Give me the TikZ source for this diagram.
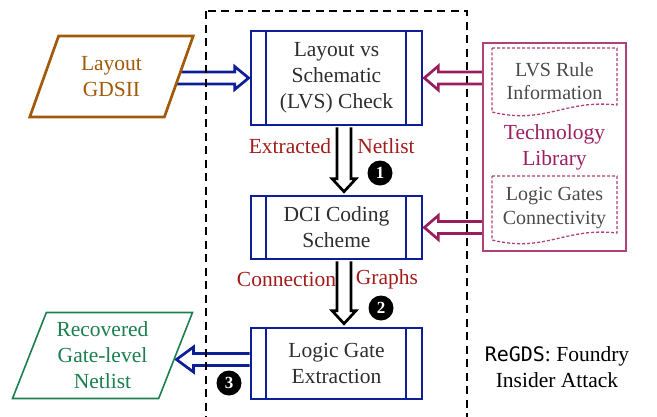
\documentclass[tikz,border=0pt]{standalone}
\usepackage{fontspec}
\setmainfont{Liberation Serif}
\newfontfamily\regdsfont{DejaVu Sans Mono}
\usetikzlibrary{shapes.geometric,calc}
\pgfdeclarelayer{background}
\pgfsetlayers{background,main}
\definecolor{bx}{HTML}{0D1E96}
\definecolor{brn}{HTML}{A25A0A}
\definecolor{grn}{HTML}{1B7F4F}
\definecolor{mag}{HTML}{9B1E5C}
\definecolor{techc}{HTML}{B0407A}
\definecolor{techt}{HTML}{9B2060}
\definecolor{lbl}{HTML}{A31C1C}
\definecolor{txt}{HTML}{2E2E2E}
\definecolor{doct}{HTML}{4A4A4A}
\begin{document}
\begin{tikzpicture}[x=1pt,y=-1pt,
  bigfont/.style={font=\fontsize{21.5}{26}\selectfont},
  proc/.style={draw=bx, line width=2.7pt, fill=white, text=txt, align=center,
    bigfont, inner sep=0pt,
    path picture={
      \draw[bx, line width=2.7pt] ($(path picture bounding box.north west)+(15,0)$) -- ($(path picture bounding box.south west)+(15,0)$);
      \draw[bx, line width=2.7pt] ($(path picture bounding box.north east)+(-16,0)$) -- ($(path picture bounding box.south east)+(-16,0)$);
    }},
  para/.style={trapezium, trapezium stretches=true, trapezium left angle=67.6,
    trapezium right angle=112.4, align=center, bigfont, inner sep=0pt},
  barrow/.style={draw=bx, line width=2.7pt, line join=miter},
  marrow/.style={draw=mag, line width=2.7pt, line join=miter},
  karrow/.style={draw=black, line width=2.7pt, line join=miter},
  docline/.style={draw=techc, line width=1.3pt, dash pattern=on 3pt off 2pt},
  doctext/.style={align=center, text=doct, font=\fontsize{20}{23.5}\selectfont, inner sep=0pt},
  flowlbl/.style={text=lbl, bigfont, inner sep=0pt},
  numc/.style={circle, fill=black, text=white, inner sep=0pt, minimum size=25pt,
    font=\fontsize{17}{17}\selectfont\bfseries},
  dashbox/.style={draw=black, line width=2.7pt, dash pattern=on 8pt off 5.5pt}
]
\useasboundingbox (0,0) rectangle (657,416);

% dashed region
\draw[dashbox] (206,11) rectangle (467,450);

% process boxes
\node[proc, minimum width=171, minimum height=94] (lvs) at (336.5,78) {Layout vs\\Schematic\\(LVS) Check};
\node[proc, minimum width=171, minimum height=63] (dci) at (336.5,227.5) {DCI Coding\\Scheme};
\node[proc, minimum width=171, minimum height=71] (logic) at (336.5,363.5) {Logic Gate\\Extraction};

% input / output parallelograms
\node[para, draw=brn, line width=2.7pt, fill=white, text=brn, minimum width=164, minimum height=81] (gds) at (111.5,76.5) {Layout\\GDSII};
\node[para, draw=grn, line width=1.6pt, fill=white, text=grn, minimum width=180, minimum height=86] (rec) at (102.5,355.5) {Recovered\\Gate-level\\Netlist};

% technology library
\node[draw=techc, line width=1.7pt, text=techt, align=center, bigfont, minimum width=143.5, minimum height=208.5] (tech) at (554.5,147) {Technology\\Library};
\draw[docline] (492,48) -- (617,48) -- (617,105) .. controls (565,99) and (545,125) .. (492,112) -- cycle;
\node[doctext] (lvsrule) at (554.5,81) {LVS Rule\\Information};
\draw[docline] (492,176) -- (617,176) -- (617,233) .. controls (565,227) and (545,253) .. (492,240) -- cycle;
\node[doctext] (lgc) at (554.5,208) {Logic Gates\\Connectivity};

% horizontal hollow arrows
\begin{pgfonlayer}{background}
\draw[barrow] let \p1=(lvs.west), \p2=(gds.center) in
  (\x2,\y1+6pt) -- (\x1-15pt,\y1+6pt) -- (\x1-15pt,\y1+11.5pt) -- (\x1-1pt,\y1)
  -- (\x1-15pt,\y1-11.5pt) -- (\x1-15pt,\y1-6pt) -- (\x2,\y1-6pt);
\draw[barrow] let \p1=(logic.west), \p2=(rec.east), \p3=(rec.center) in
  (\x1,\y1+10pt) -- (\x2+17pt,\y1+10pt) -- (\x2+17pt,\y1+16.5pt) -- (\x2,\y1+4pt)
  -- (\x2+17pt,\y1-8.5pt) -- (\x2+17pt,\y1-2pt) -- (\x1,\y1-2pt);
\end{pgfonlayer}
\draw[marrow] let \p1=(lvs.east), \p2=(tech.west) in
  (\x2,\y1+6pt) -- (\x1+15pt,\y1+6pt) -- (\x1+15pt,\y1+12pt) -- (\x1+1pt,\y1)
  -- (\x1+15pt,\y1-12pt) -- (\x1+15pt,\y1-6pt) -- (\x2,\y1-6pt);
\draw[marrow] let \p1=(dci.east), \p2=(tech.west) in
  (\x2,\y1+6pt) -- (\x1+15pt,\y1+6pt) -- (\x1+15pt,\y1+12pt) -- (\x1+1pt,\y1)
  -- (\x1+15pt,\y1-12pt) -- (\x1+15pt,\y1-6pt) -- (\x2,\y1-6pt);

% vertical hollow arrows
\draw[karrow] let \p1=(lvs.south), \p2=(dci.north) in
  (\x1+0.5pt,\y1-1pt) -- (\x1+0.5pt,\y2+16pt) -- (\x1-4.5pt,\y2+16pt) -- (\x1+7.5pt,\y2+3pt)
  -- (\x1+19.5pt,\y2+16pt) -- (\x1+14.5pt,\y2+16pt) -- (\x1+14.5pt,\y1-1pt);
\draw[karrow] let \p1=(dci.south), \p2=(logic.north) in
  (\x1+0.5pt,\y1-1pt) -- (\x1+0.5pt,\y2+16pt) -- (\x1-4.5pt,\y2+16pt) -- (\x1+7.5pt,\y2+3pt)
  -- (\x1+19.5pt,\y2+16pt) -- (\x1+14.5pt,\y2+16pt) -- (\x1+14.5pt,\y1-1pt);

% flow labels
\node[flowlbl] (ext) at (290,146) {Extracted};
\node[flowlbl] (nl) at (386,146) {Netlist};
\node[flowlbl] (conn) at (286.5,279) {Connection};
\node[flowlbl] (gr) at (387,279) {Graphs};

% step numbers
\node[numc] (n1) at (380,173) {1};
\node[numc] (n2) at (381,308) {2};
\node[numc] (n3) at (229,383) {3};

% caption
\node[align=center, bigfont, text=black, inner sep=0pt] (cap) at (557,367.5) {{\regdsfont\fontsize{20}{26}\selectfont ReGDS}: Foundry\\Insider Attack};
\end{tikzpicture}
\end{document}
